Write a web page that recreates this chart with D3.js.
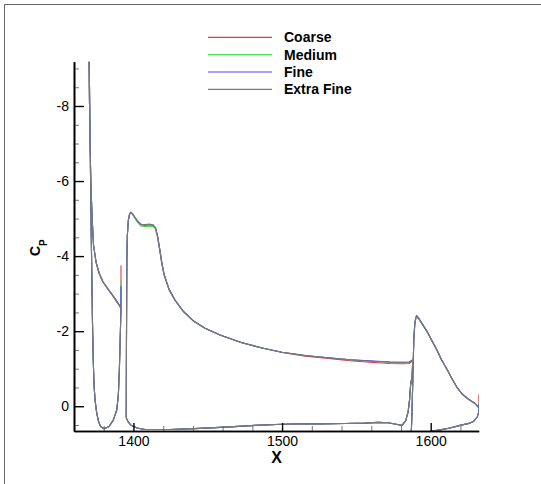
<!DOCTYPE html>
<html>
<head>
<meta charset="utf-8">
<script src="https://cdn.jsdelivr.net/npm/d3@7"></script>
<style>
  body { margin: 0; background: #fff; }
  text { font-family: "Liberation Sans", Arial, Helvetica, sans-serif; }
</style>
</head>
<body>
<div id="root"></div>
<script>
// series
const seriesNames = ["Coarse", "Medium", "Fine", "Extra Fine"];
const seriesColors = ["#e23a3a", "#4cdc4c", "#4646ff", "#7a7a7a"];

// ticks
const xMajorTicks = [1400, 1500, 1600];
const xMinorTicks = [1380, 1420, 1440, 1460, 1480, 1520, 1540, 1560, 1580, 1620];
const yMajorTicks = [-8, -6, -4, -2, 0];
const yMinorTicks = [0.5, -0.5, -1, -1.5, -2.5, -3, -3.5, -4.5, -5, -5.5, -6.5, -7, -7.5, -8.5, -9];

// slat (closed loop: upper surface, TE, lower surface)
const slatX = [1369.99, 1370.4, 1370.87, 1371.47, 1372.28, 1373.15, 1374.83, 1376.85, 1379.54, 1382.91, 1386.27, 1388.96, 1390.98, 1391.59,
  1391.62, 1391.59,
  1391.32, 1390.98, 1390.51, 1389.84, 1388.76, 1386.47, 1383.58, 1380.22,
  1377.86, 1376.38, 1375.17, 1374.16, 1373.49, 1372.95, 1372.41, 1371.94, 1371.47, 1371.0, 1370.53, 1370.06];
const slatCoarse = [-9.76, -8.16, -6.83, -5.76, -4.96, -4.29, -3.84, -3.55, -3.31, -3.12, -2.94, -2.78, -2.66, -2.60,
  -3.74, -2.60,
  -2.16, -1.63, -0.96, -0.30, 0.10, 0.37, 0.54, 0.60,
  0.54, 0.39, 0.15, -0.17, -0.56, -1.23, -2.30, -3.63, -4.96, -6.56, -8.16, -9.76];
const slatMedium = [-9.76, -8.16, -6.83, -5.76, -4.96, -4.29, -3.84, -3.55, -3.31, -3.12, -2.94, -2.78, -2.66, -2.60,
  -3.34, -2.60,
  -2.16, -1.63, -0.96, -0.30, 0.10, 0.37, 0.54, 0.60,
  0.54, 0.39, 0.15, -0.17, -0.56, -1.23, -2.30, -3.63, -4.96, -6.56, -8.16, -9.76];
const slatFine = [-9.76, -8.16, -6.83, -5.76, -4.96, -4.29, -3.84, -3.55, -3.31, -3.12, -2.94, -2.78, -2.66, -2.60,
  -3.19, -2.60,
  -2.16, -1.63, -0.96, -0.30, 0.10, 0.37, 0.54, 0.60,
  0.54, 0.39, 0.15, -0.17, -0.56, -1.23, -2.30, -3.63, -4.96, -6.56, -8.16, -9.76];
const slatExtraFine = [-9.76, -8.16, -6.83, -5.76, -4.96, -4.29, -3.84, -3.55, -3.31, -3.12, -2.94, -2.78, -2.66, -2.60,
  -2.60, -2.60,
  -2.16, -1.63, -0.96, -0.30, 0.10, 0.37, 0.54, 0.60,
  0.54, 0.39, 0.15, -0.17, -0.56, -1.23, -2.30, -3.63, -4.96, -6.56, -8.16, -9.76];

// main element
const mainX = [1395.16, 1395.22, 1395.36, 1395.56, 1395.9, 1396.57, 1397.38, 1398.18, 1399.39, 1401.08,
  1403.1, 1405.11, 1407.81, 1411.17, 1413.19, 1414.87, 1416.22, 1417.56, 1419.04, 1420.59,
  1423.95, 1427.99, 1433.37, 1440.1, 1448.17, 1458.27, 1472.4, 1486.53, 1500.0, 1515.46,
  1530.94, 1545.74, 1559.2, 1572.66, 1580.73, 1585.44, 1587.93,
  1587.5, 1586.49, 1585.78, 1584.77, 1583.09, 1580.73, 1576.7, 1571.32, 1564.59, 1555.84,
  1542.39, 1525.56, 1512.1, 1500.0, 1481.83, 1465.0, 1444.82, 1424.63, 1407.81, 1402.42,
  1398.39, 1396.37, 1395.16];
const mainCoarse = [0.31, -0.70, -2.30, -3.90, -4.55, -4.95, -5.11, -5.15, -5.12, -5.02,
  -4.90, -4.83, -4.82, -4.83, -4.81, -4.73, -4.50, -4.18, -3.80, -3.49,
  -3.10, -2.82, -2.53, -2.28, -2.08, -1.90, -1.70, -1.55, -1.43, -1.33,
  -1.27, -1.21, -1.17, -1.14, -1.13, -1.14, -1.21,
  -0.81, -0.57, -0.17, 0.16, 0.39, 0.51, 0.48, 0.44, 0.43, 0.45,
  0.46, 0.47, 0.47, 0.48, 0.51, 0.55, 0.59, 0.62, 0.62, 0.58,
  0.51, 0.41, 0.31];
const mainMedium = [0.31, -0.70, -2.30, -3.90, -4.55, -4.95, -5.11, -5.15, -5.11, -5.00,
  -4.88, -4.80, -4.79, -4.80, -4.79, -4.72, -4.52, -4.21, -3.83, -3.51,
  -3.11, -2.82, -2.53, -2.28, -2.08, -1.90, -1.70, -1.55, -1.44, -1.35,
  -1.29, -1.24, -1.20, -1.18, -1.17, -1.18, -1.24,
  -0.81, -0.57, -0.17, 0.16, 0.39, 0.51, 0.48, 0.44, 0.43, 0.45,
  0.46, 0.47, 0.47, 0.48, 0.51, 0.55, 0.59, 0.62, 0.62, 0.58,
  0.51, 0.41, 0.31];
const mainFine = [0.31, -0.70, -2.30, -3.90, -4.56, -4.96, -5.12, -5.17, -5.13, -5.03,
  -4.92, -4.85, -4.84, -4.85, -4.83, -4.75, -4.54, -4.22, -3.84, -3.52,
  -3.12, -2.83, -2.54, -2.28, -2.08, -1.90, -1.70, -1.55, -1.44, -1.35,
  -1.29, -1.24, -1.21, -1.18, -1.17, -1.18, -1.23,
  -0.81, -0.57, -0.17, 0.16, 0.39, 0.51, 0.48, 0.44, 0.43, 0.45,
  0.46, 0.47, 0.47, 0.48, 0.51, 0.55, 0.59, 0.62, 0.62, 0.58,
  0.51, 0.41, 0.31];
const mainExtraFine = [0.31, -0.70, -2.30, -3.90, -4.56, -4.96, -5.12, -5.17, -5.13, -5.03,
  -4.92, -4.85, -4.84, -4.85, -4.83, -4.75, -4.54, -4.22, -3.84, -3.52,
  -3.12, -2.83, -2.54, -2.28, -2.08, -1.90, -1.70, -1.55, -1.44, -1.35,
  -1.29, -1.24, -1.20, -1.17, -1.16, -1.17, -1.23,
  -0.81, -0.57, -0.17, 0.16, 0.39, 0.51, 0.48, 0.44, 0.43, 0.45,
  0.46, 0.47, 0.47, 0.48, 0.51, 0.55, 0.59, 0.62, 0.62, 0.58,
  0.51, 0.41, 0.31];

// flap
const flapX = [1586.79, 1586.99, 1587.46, 1587.87, 1588.27, 1588.67, 1589.28, 1589.88, 1590.49, 1591.5,
  1593.51, 1597.35, 1600.58, 1604.08, 1607.31, 1610.81, 1614.04, 1617.54, 1620.77, 1624.26,
  1627.16, 1629.85, 1632.2,
  1632.22, 1632.2,
  1632.34, 1631.39, 1628.7, 1626.49, 1619.76, 1613.03, 1606.3, 1598.23, 1591.5, 1588.13, 1586.79];
const flapCoarse = [1.03, 0.66, 0.10, -0.55, -1.20, -1.78, -2.15, -2.31, -2.37, -2.35,
  -2.24, -2.01, -1.77, -1.51, -1.24, -1.00, -0.76, -0.52, -0.35, -0.23,
  -0.15, -0.08, 0.03,
  -0.30, 0.03,
  0.15, 0.28, 0.41, 0.45, 0.51, 0.58, 0.63, 0.68, 0.71, 0.82, 1.03];
const flapMedium = [1.03, 0.66, 0.10, -0.55, -1.21, -1.79, -2.16, -2.32, -2.38, -2.35,
  -2.23, -2.00, -1.76, -1.50, -1.23, -0.99, -0.75, -0.51, -0.34, -0.22,
  -0.14, -0.07, 0.03,
  -0.12, 0.03,
  0.15, 0.28, 0.41, 0.45, 0.51, 0.58, 0.63, 0.68, 0.71, 0.82, 1.03];
const flapFine = [1.03, 0.66, 0.10, -0.56, -1.23, -1.82, -2.19, -2.35, -2.41, -2.37,
  -2.24, -2.00, -1.76, -1.50, -1.23, -0.99, -0.75, -0.51, -0.34, -0.22,
  -0.14, -0.07, 0.03,
  -0.05, 0.03,
  0.15, 0.28, 0.41, 0.45, 0.51, 0.58, 0.63, 0.68, 0.71, 0.82, 1.03];
const flapExtraFine = [1.03, 0.66, 0.10, -0.56, -1.23, -1.82, -2.20, -2.36, -2.42, -2.38,
  -2.25, -2.01, -1.77, -1.51, -1.24, -0.99, -0.75, -0.51, -0.34, -0.22,
  -0.14, -0.07, 0.03,
  0.03, 0.03,
  0.15, 0.28, 0.41, 0.45, 0.51, 0.58, 0.63, 0.68, 0.71, 0.82, 1.03];

const slatSeries = [slatCoarse, slatMedium, slatFine, slatExtraFine];
const mainSeries = [mainCoarse, mainMedium, mainFine, mainExtraFine];
const flapSeries = [flapCoarse, flapMedium, flapFine, flapExtraFine];

// layout
const W = 541, H = 484;
const plot = {left: 74, right: 478.7, top: 61.7, bottom: 431};

const svg = d3.select("#root").append("svg")
    .attr("width", W)
    .attr("height", H);

// frame (left + top only)
svg.append("path")
    .attr("d", "M4.5," + H + "V4.5H" + W)
    .attr("fill", "none")
    .attr("stroke", "#666")
    .attr("stroke-width", 1);

// scales
const x = d3.scaleLinear().domain([1360, 1632.3]).range([plot.left, plot.right]);
const y = d3.scaleLinear().domain([0.66, -9.18]).range([plot.bottom, plot.top]);

svg.append("clipPath").attr("id", "clip")
  .append("rect")
    .attr("x", plot.left).attr("y", plot.top)
    .attr("width", plot.right - plot.left)
    .attr("height", plot.bottom - plot.top);

// build rows
function rows(xs, ys) {
    return xs.map((v, i) => ({x: v, cp: ys[i]}));
}

let line = d3.line()
    .x((d) => x(d.x))
    .y((d) => y(d.cp));

const curves = svg.append("g").attr("clip-path", "url(#clip)");

seriesNames.forEach((name, k) => {
    [[slatX, slatSeries[k]], [mainX, mainSeries[k]], [flapX, flapSeries[k]]].forEach((el) => {
        curves.append("path")
            .datum(rows(el[0], el[1]))
            .attr("d", line)
            .attr("fill", "none")
            .attr("stroke", seriesColors[k])
            .attr("stroke-width", 1.1)
            .attr("stroke-linejoin", "round");
    });
});

// axes
const yAxis = d3.axisLeft(y).tickValues(yMajorTicks).tickSizeInner(-10).tickSizeOuter(0)
    .tickPadding(5).tickFormat((d) => String(d));
const yMinor = d3.axisLeft(y).tickValues(yMinorTicks).tickSizeInner(-5).tickSizeOuter(0).tickFormat("");
const xAxis = d3.axisBottom(x).tickValues(xMajorTicks).tickSizeInner(-8).tickSizeOuter(0)
    .tickPadding(5).tickFormat((d) => String(d));
const xMinor = d3.axisBottom(x).tickValues(xMinorTicks).tickSizeInner(-5).tickSizeOuter(0).tickFormat("");

function styleAxis(g, major) {
    g.select(".domain").attr("stroke", "#000").attr("stroke-width", 1.6);
    g.selectAll(".tick line").attr("stroke", major ? "#000" : "#555")
        .attr("stroke-width", major ? 1.4 : 0.8);
    g.selectAll(".tick text").attr("fill", "#000")
        .style("font-size", "14px")
        .style("font-family", "'Liberation Sans', Arial, sans-serif");
}

svg.append("g").attr("transform", "translate(" + plot.left + ",0)").call(yMinor).call(styleAxis, false);
svg.append("g").attr("transform", "translate(" + plot.left + ",0)").call(yAxis).call(styleAxis, true);
svg.append("g").attr("transform", "translate(0," + plot.bottom + ")").call(xMinor).call(styleAxis, false);
svg.append("g").attr("transform", "translate(0," + plot.bottom + ")").call(xAxis).call(styleAxis, true);

// axis titles
svg.append("text")
    .attr("x", 276.7).attr("y", 463)
    .attr("text-anchor", "middle")
    .style("font-size", "16px").style("font-weight", "bold")
    .text("X");

let cpLabel = svg.append("text")
    .attr("transform", "translate(39.5,256)rotate(-90)")
    .style("font-weight", "bold");
cpLabel.append("tspan").style("font-size", "14px").text("C");
cpLabel.append("tspan").attr("dy", 7).style("font-size", "10px").text("P");

// legend
const legend = svg.append("g");
seriesNames.forEach((name, k) => {
    let ly = 37.3 + k * 17.35;
    legend.append("line")
        .attr("x1", 208).attr("x2", 272)
        .attr("y1", ly).attr("y2", ly)
        .attr("stroke", seriesColors[k])
        .attr("stroke-width", 1.2);
    legend.append("text")
        .attr("x", 284).attr("y", ly + 5)
        .style("font-size", "14px").style("font-weight", "bold")
        .text(name);
});
</script>
</body>
</html>
